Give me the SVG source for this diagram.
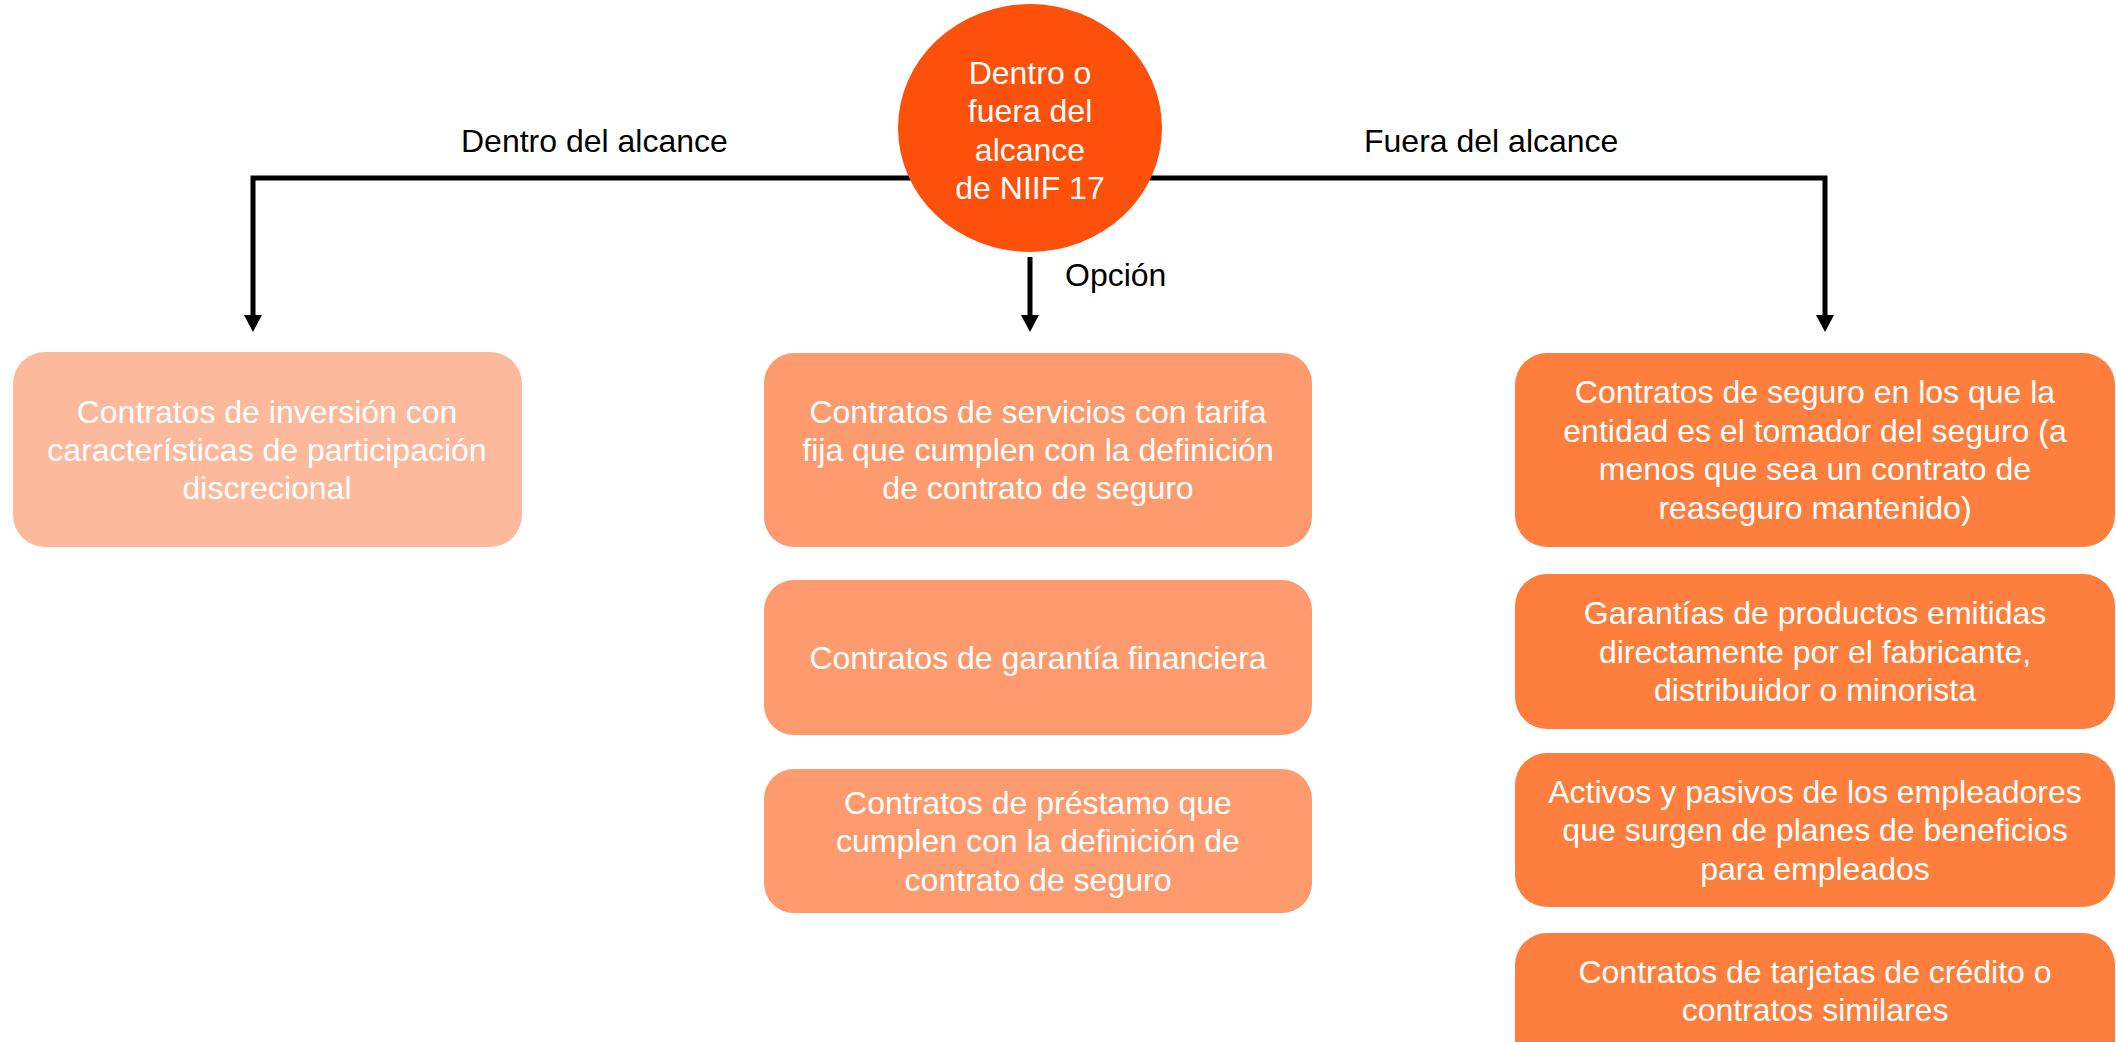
<svg xmlns="http://www.w3.org/2000/svg" width="2116" height="1042" viewBox="0 0 2116 1042">
<style>
text{font-family:"Liberation Sans",Arial,sans-serif;font-size:32px}
.w{fill:#ffffff;text-anchor:middle}
.k{fill:#000000}
.c{fill:none;stroke:#000000;stroke-width:5}
.b1{fill:#FCB99C}
.b2{fill:#FD9A6E}
.b3{fill:#FD7E3D}
</style>
<defs>
<marker id="ah" markerUnits="userSpaceOnUse" markerWidth="17" markerHeight="18" viewBox="0 0 17 18" refX="0" refY="9" orient="auto">
<path d="M0,0 L17,9 L0,18 z" fill="#000000"/>
</marker>
</defs>
<g id="connectors">
<path class="c" d="M1030,178 H253 V315" marker-end="url(#ah)"/>
<path class="c" d="M1030,178 H1825 V315" marker-end="url(#ah)"/>
<path class="c" d="M1030,257 V315" marker-end="url(#ah)"/>
<text class="k" x="461" y="152">Dentro del alcance</text>
<text class="k" x="1364" y="152">Fuera del alcance</text>
<text class="k" x="1065" y="286">Opción</text>
</g>
<g id="root">
<ellipse cx="1030" cy="128" rx="132" ry="124" fill="#FD500A"/>
<text class="w" x="1030" y="84">Dentro o</text>
<text class="w" x="1030" y="122">fuera del</text>
<text class="w" x="1030" y="161">alcance</text>
<text class="w" x="1030" y="199">de NIIF 17</text>
</g>
<g id="in-scope">
<rect class="b1" x="13" y="352" width="509" height="195" rx="32"/>
<text class="w" x="267" y="423">Contratos de inversión con</text>
<text class="w" x="267" y="461">características de participación</text>
<text class="w" x="267" y="499">discrecional</text>
</g>
<g id="opt-1">
<rect class="b2" x="764" y="353" width="548" height="194" rx="30"/>
<text class="w" x="1038" y="423">Contratos de servicios con tarifa</text>
<text class="w" x="1038" y="461">fija que cumplen con la definición</text>
<text class="w" x="1038" y="499">de contrato de seguro</text>
</g>
<g id="opt-2">
<rect class="b2" x="764" y="580" width="548" height="155" rx="30"/>
<text class="w" x="1038" y="669">Contratos de garantía financiera</text>
</g>
<g id="opt-3">
<rect class="b2" x="764" y="769" width="548" height="144" rx="30"/>
<text class="w" x="1038" y="814">Contratos de préstamo que</text>
<text class="w" x="1038" y="852">cumplen con la definición de</text>
<text class="w" x="1038" y="891">contrato de seguro</text>
</g>
<g id="out-1">
<rect class="b3" x="1515" y="353" width="600" height="194" rx="32"/>
<text class="w" x="1815" y="403">Contratos de seguro en los que la</text>
<text class="w" x="1815" y="442">entidad es el tomador del seguro (a</text>
<text class="w" x="1815" y="480">menos que sea un contrato de</text>
<text class="w" x="1815" y="519">reaseguro mantenido)</text>
</g>
<g id="out-2">
<rect class="b3" x="1515" y="574" width="600" height="155" rx="32"/>
<text class="w" x="1815" y="624">Garantías de productos emitidas</text>
<text class="w" x="1815" y="663">directamente por el fabricante,</text>
<text class="w" x="1815" y="701">distribuidor o minorista</text>
</g>
<g id="out-3">
<rect class="b3" x="1515" y="753" width="600" height="154" rx="32"/>
<text class="w" x="1815" y="803">Activos y pasivos de los empleadores</text>
<text class="w" x="1815" y="841">que surgen de planes de beneficios</text>
<text class="w" x="1815" y="880">para empleados</text>
</g>
<g id="out-4">
<rect class="b3" x="1515" y="933" width="600" height="140" rx="32"/>
<text class="w" x="1815" y="983">Contratos de tarjetas de crédito o</text>
<text class="w" x="1815" y="1021">contratos similares</text>
</g>
</svg>
